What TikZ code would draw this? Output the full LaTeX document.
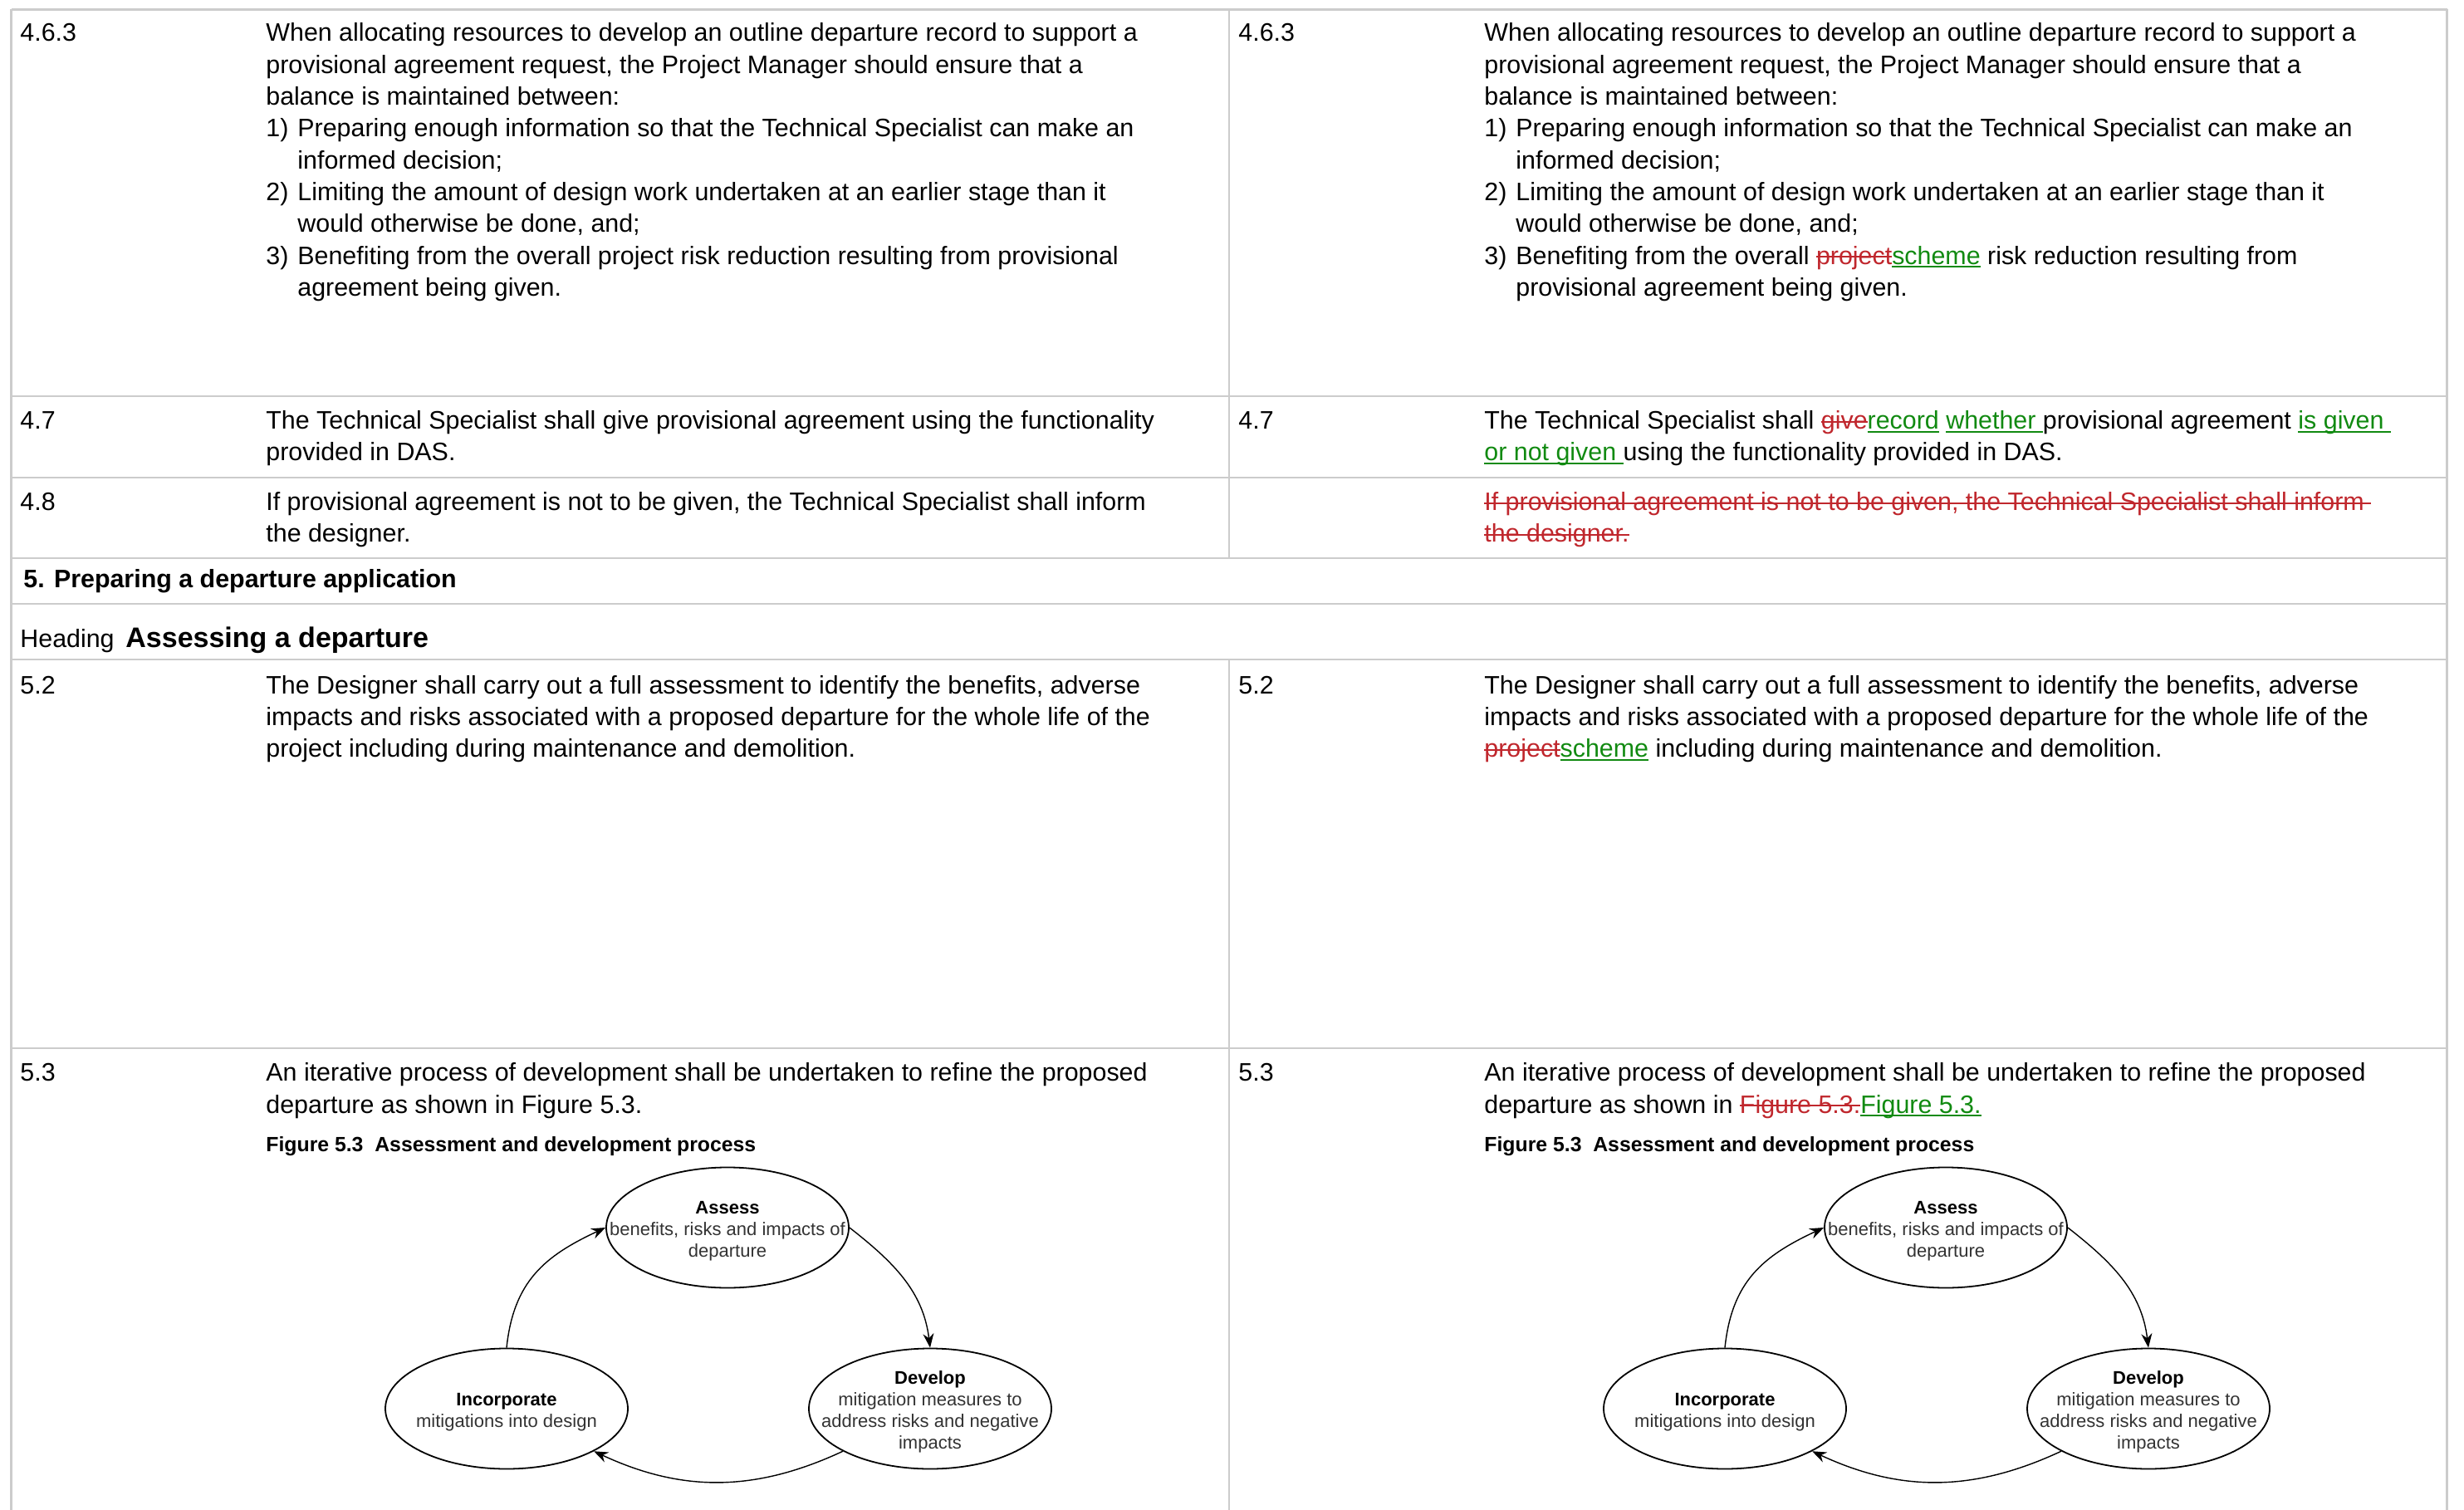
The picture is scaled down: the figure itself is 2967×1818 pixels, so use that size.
\documentclass[tikz,border=0pt]{standalone}
\usepackage{fontspec}
\setmainfont{Liberation Sans}
\usetikzlibrary{shapes.geometric,arrows.meta}
\definecolor{gridc}{HTML}{CCCCCC}
\definecolor{delred}{HTML}{C0272D}
\definecolor{addgreen}{HTML}{118A11}
\newsavebox\tcbox
\newcommand\del[1]{{\color{delred}\sbox\tcbox{#1}\rlap{\rule[0.26em]{\wd\tcbox}{1pt}}\usebox\tcbox}}
\newcommand\ins[1]{{\color{addgreen}\sbox\tcbox{#1}\rlap{\rule[-0.14em]{\wd\tcbox}{1pt}}\usebox\tcbox}}
\newcounter{tl}
\newcommand\tline[3]{\stepcounter{tl}\node[body] (tl\arabic{tl}) at (#1,{#2+2}) {#3};}
\newcommand\cycfig[1]{%
  \node[ell] (#1A) at (876,1478) {};
  \node[ell] (#1I) at (610,1696) {};
  \node[ell] (#1D) at (1120,1696) {};
  \node[etxt] (#1At) at (#1A) {\textbf{Assess}\\{\color{black!80}benefits, risks and impacts of}\\{\color{black!80}departure}};
  \node[etxt] (#1It) at (#1I) {\textbf{Incorporate}\\{\color{black!80}mitigations into design}};
  \node[etxt] (#1Dt) at (#1D) {\textbf{Develop}\\{\color{black!80}mitigation measures to}\\{\color{black!80}address risks and negative}\\{\color{black!80}impacts}};
  \draw[arr] (#1I.north) to[out=84,in=205,looseness=1.1] (#1A.west);
  \draw[arr] (#1A.east) to[out=-38,in=97] (#1D.north);
  \draw[arr] (#1D.206) to[out=205,in=-25] (#1I.334);
}
\tikzset{
  body/.style={anchor=base west, inner sep=0pt, font=\fontsize{15.2pt}{19pt}\selectfont},
  gridl/.style={draw=gridc, line width=1.1pt},
  ell/.style={ellipse, draw, line width=0.9pt, minimum width=146pt, minimum height=72.5pt, inner sep=0pt},
  etxt/.style={align=center, inner sep=0pt, yshift=-2pt, font=\fontsize{11pt}{13pt}\selectfont},
  arr/.style={-{Stealth[length=8.5pt,width=6.5pt]}, line width=0.7pt},
}
\begin{document}
\begin{tikzpicture}[x=0.5pt,y=-0.5pt]
\useasboundingbox (0,0) rectangle (2967,1818);
\fill[white] (0,0) rectangle (2967,1818);
% grid
\draw[gridl] (13.5,11.5) -- (2946.5,11.5);
\foreach \yy in {477,575,672,727,794,1262} \draw[gridl] (13.5,\yy) -- (2946.5,\yy);
\draw[gridl] (13.5,11.5) -- (13.5,1818);
\draw[gridl] (2946.5,11.5) -- (2946.5,1818);
\draw[gridl] (1480,11.5) -- (1480,672);
\draw[gridl] (1480,794) -- (1480,1818);

% ---------- left column ----------
\tline{24}{48}{4.6.3}
\tline{320}{48}{When allocating resources to develop an outline departure record to support a}
\tline{320}{86.3}{provisional agreement request, the Project Manager should ensure that a}
\tline{320}{124.6}{balance is maintained between:}
\tline{320}{162.9}{1)}
\tline{358}{162.9}{Preparing enough information so that the Technical Specialist can make an}
\tline{358}{201.2}{informed decision;}
\tline{320}{239.5}{2)}
\tline{358}{239.5}{Limiting the amount of design work undertaken at an earlier stage than it}
\tline{358}{277.8}{would otherwise be done, and;}
\tline{320}{316.1}{3)}
\tline{358}{316.1}{Benefiting from the overall project risk reduction resulting from provisional}
\tline{358}{354.4}{agreement being given.}

\tline{24}{514.5}{4.7}
\tline{320}{514.5}{The Technical Specialist shall give provisional agreement using the functionality}
\tline{320}{553}{provided in DAS.}

\tline{24}{613}{4.8}
\tline{320}{613}{If provisional agreement is not to be given, the Technical Specialist shall inform}
\tline{320}{651}{the designer.}

\tline{28}{706}{\bfseries 5. Preparing a departure application}
\tline{24}{777}{Heading}
\tline{151}{777}{\bfseries\fontsize{17pt}{20pt}\selectfont Assessing a departure}

\tline{24}{833}{5.2}
\tline{320}{833}{The Designer shall carry out a full assessment to identify the benefits, adverse}
\tline{320}{871}{impacts and risks associated with a proposed departure for the whole life of the}
\tline{320}{909.5}{project including during maintenance and demolition.}

\tline{24}{1299.5}{5.3}
\tline{320}{1299.5}{An iterative process of development shall be undertaken to refine the proposed}
\tline{320}{1338}{departure as shown in Figure 5.3.}
\tline{320}{1384}{\bfseries\fontsize{12.4pt}{14pt}\selectfont Figure 5.3\ \ Assessment and development process}

\cycfig{L}

% ---------- right column ----------
\tline{1491}{48}{4.6.3}
\tline{1787}{48}{When allocating resources to develop an outline departure record to support a}
\tline{1787}{86.3}{provisional agreement request, the Project Manager should ensure that a}
\tline{1787}{124.6}{balance is maintained between:}
\tline{1787}{162.9}{1)}
\tline{1825}{162.9}{Preparing enough information so that the Technical Specialist can make an}
\tline{1825}{201.2}{informed decision;}
\tline{1787}{239.5}{2)}
\tline{1825}{239.5}{Limiting the amount of design work undertaken at an earlier stage than it}
\tline{1825}{277.8}{would otherwise be done, and;}
\tline{1787}{316.1}{3)}
\tline{1825}{316.1}{Benefiting from the overall \del{project}\ins{scheme} risk reduction resulting from}
\tline{1825}{354.4}{provisional agreement being given.}

\tline{1491}{514.5}{4.7}
\tline{1787}{514.5}{The Technical Specialist shall \del{give}\ins{record} \ins{whether\ }provisional agreement \ins{is given\ }}
\tline{1787}{553}{\ins{or not given\ }using the functionality provided in DAS.}

\tline{1787}{613}{\del{If provisional agreement is not to be given, the Technical Specialist shall inform\ }}
\tline{1787}{651}{\del{the designer.}}

\tline{1491}{833}{5.2}
\tline{1787}{833}{The Designer shall carry out a full assessment to identify the benefits, adverse}
\tline{1787}{871}{impacts and risks associated with a proposed departure for the whole life of the}
\tline{1787}{909.5}{\del{project}\ins{scheme} including during maintenance and demolition.}

\tline{1491}{1299.5}{5.3}
\tline{1787}{1299.5}{An iterative process of development shall be undertaken to refine the proposed}
\tline{1787}{1338}{departure as shown in \del{Figure 5.3.}\ins{Figure 5.3.}}
\tline{1787}{1384}{\bfseries\fontsize{12.4pt}{14pt}\selectfont Figure 5.3\ \ Assessment and development process}

\begin{scope}[xshift=733.5pt]
\cycfig{R}
\end{scope}
\end{tikzpicture}
\end{document}
